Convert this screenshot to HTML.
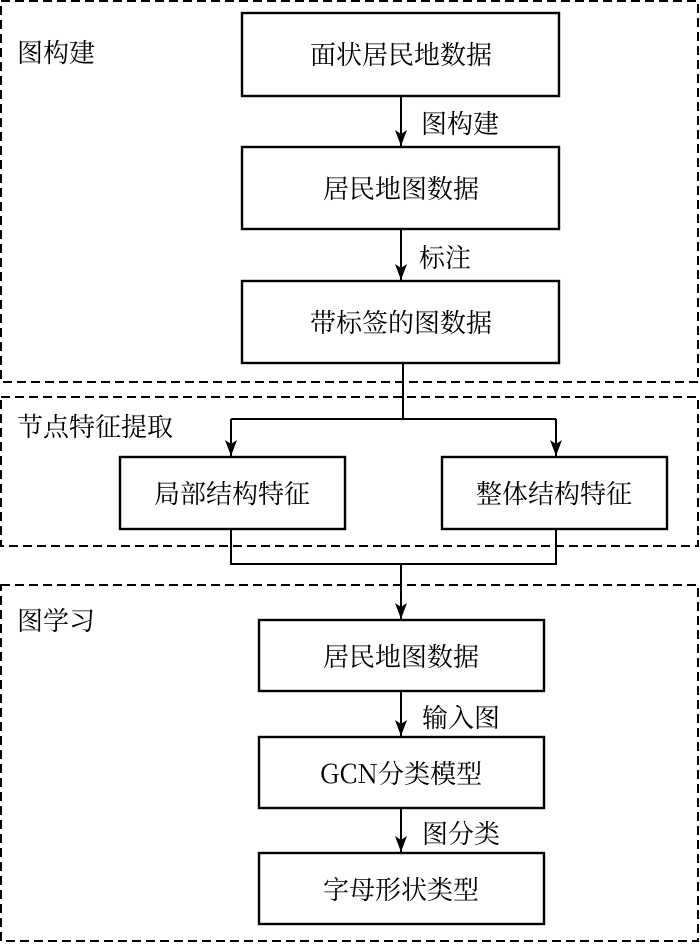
<!DOCTYPE html>
<html><head><meta charset="utf-8"><style>
body{margin:0;background:#fff}
svg text{font-family:"Noto Serif CJK SC","Liberation Serif",serif;font-size:26px;fill:#000}
</style></head><body>
<svg width="700" height="943" xmlns="http://www.w3.org/2000/svg">
<defs>
<marker id="d" viewBox="0 0 16 12" markerWidth="16" markerHeight="12" refX="16" refY="6" orient="auto" markerUnits="userSpaceOnUse"><path d="M0,0 L16,6 L0,12 L4,6 Z" fill="#000"/></marker></defs>
<g fill="none" stroke="#000" stroke-width="2" stroke-dasharray="9,5">
<rect x="1" y="1" width="697" height="381"/>
<rect x="1" y="397" width="697" height="149"/>
<rect x="1" y="585" width="697" height="356"/>
</g>
<g fill="none" stroke="#000" stroke-width="2.4">
<rect x="242" y="13" width="317" height="83"/>
<rect x="242" y="147" width="317" height="82"/>
<rect x="242" y="281" width="317" height="82"/>
<rect x="120" y="457" width="225" height="72"/>
<rect x="442" y="457" width="225" height="72"/>
<rect x="259" y="620" width="285" height="71"/>
<rect x="259" y="737" width="285" height="71"/>
<rect x="259" y="853" width="285" height="71"/>
</g>
<g fill="none" stroke="#000" stroke-width="2">
<line x1="401" y1="96" x2="401" y2="146" marker-end="url(#d)"/>
<line x1="401" y1="229" x2="401" y2="280" marker-end="url(#d)"/>
<polyline points="403,363 403,419"/>
<polyline points="231,419 556,419"/>
<line x1="231" y1="419" x2="231" y2="456" marker-end="url(#d)"/>
<line x1="556" y1="419" x2="556" y2="456" marker-end="url(#d)"/>
<polyline points="231,529 231,564 556,564 556,529"/>
<line x1="401" y1="564" x2="401" y2="619" marker-end="url(#d)"/>
<line x1="401" y1="691" x2="401" y2="736" marker-end="url(#d)"/>
<line x1="401" y1="808" x2="401" y2="852" marker-end="url(#d)"/>
</g>
<text x="17" y="62">图构建</text>
<text x="17" y="436">节点特征提取</text>
<text x="17" y="630">图学习</text>
<g text-anchor="middle">
<text x="401" y="64">面状居民地数据</text>
<text x="401" y="198">居民地图数据</text>
<text x="401" y="332">带标签的图数据</text>
<text x="232" y="503">局部结构特征</text>
<text x="554" y="503">整体结构特征</text>
<text x="401" y="666">居民地图数据</text>
<text x="401" y="783">GCN分类模型</text>
<text x="401" y="899">字母形状类型</text>
</g>
<text x="421" y="133">图构建</text>
<text x="419" y="267">标注</text>
<text x="422" y="727">输入图</text>
<text x="422" y="843">图分类</text>
</svg>
</body></html>
